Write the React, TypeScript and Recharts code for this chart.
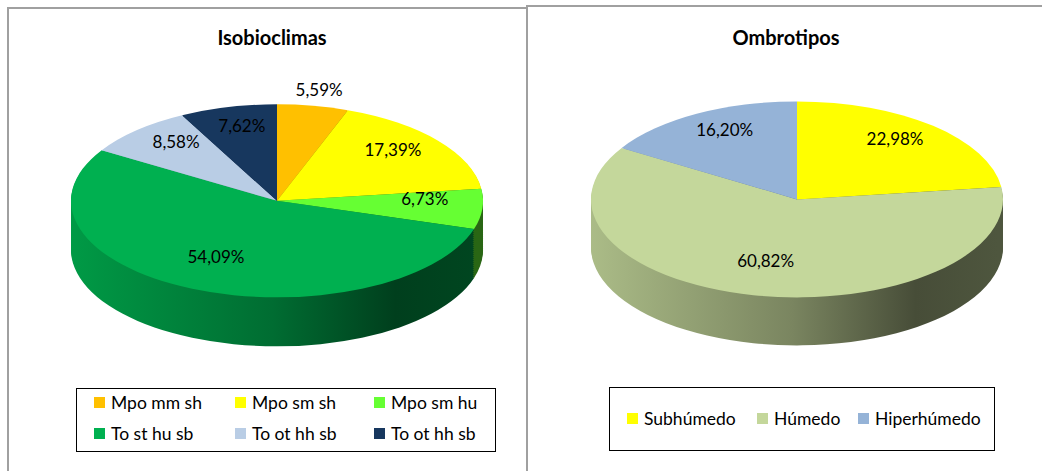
import React from 'react';
import { PieChart, Pie, Cell } from 'recharts';

// Isobioclimas
const isoNames = ['Mpo mm sh', 'Mpo sm sh', 'Mpo sm hu', 'To st hu sb', 'To ot hh sb', 'To ot hh sb'];
const isoValues = [5.59, 17.39, 6.73, 54.09, 8.58, 7.62];
const isoColors = ['#FFC000', '#FFFF00', '#66FF33', '#00B050', '#B9CDE5', '#17375E'];

// Ombrotipos
const omNames = ['Subhúmedo', 'Húmedo', 'Hiperhúmedo'];
const omValues = [22.98, 60.82, 16.2];
const omColors = ['#FFFF00', '#C4D79B', '#95B3D7'];

const FONT = 'Lato, "Open Sans", sans-serif';
const STEP = 2;

const shade = (hex: string, f: number) => {
  const n = parseInt(hex.slice(1), 16);
  const r = Math.round(((n >> 16) & 255) * f);
  const g = Math.round(((n >> 8) & 255) * f);
  const b = Math.round((n & 255) * f);
  return `rgb(${r},${g},${b})`;
};

const fmt = (v: number) => v.toFixed(2).replace('.', ',') + '%';

interface Pie3DProps {
  id: string;
  names: string[];
  values: number[];
  colors: string[];
  width: number;
  height: number;
  cx: number;
  cy: number;
  rx: number;
  ry: number;
  depth: number;
}

const Pie3D: React.FC<Pie3DProps> = ({ id, names, values, colors, width, height, cx, cy, rx, ry, depth }) => {
  const s = ry / rx;
  const data = names.map((name, i) => ({ name, value: values[i] }));
  const layers: number[] = [];
  for (let k = depth; k > 0; k -= STEP) layers.push(k);

  // small slices get their label outside, the rest inside (nudged up a bit for the tilt)
  const renderLabel = (p: any) => {
    const outside = p.percent < 0.06;
    const f = outside ? 1.17 : 0.72;
    const a = (-p.midAngle * Math.PI) / 180;
    const x = p.cx + p.outerRadius * f * Math.cos(a);
    const y = (p.cy + p.outerRadius * f * Math.sin(a)) * s - (outside ? 0 : 8);
    return (
      <text x={x} y={y} textAnchor="middle" dominantBaseline="central" fill="#000" fontSize={17} fontFamily={FONT}>
        {fmt(p.value)}
      </text>
    );
  };

  return (
    <div className={id}>
      <style>{`.${id} path.recharts-sector { transform: scaleY(${s}); transform-origin: 0 0; }`}</style>
      <PieChart width={width} height={height}>
        <defs>
          {colors.map((c, i) => (
            <linearGradient key={i} id={`${id}-side-${i}`} gradientUnits="userSpaceOnUse" x1={cx - rx} x2={cx + rx} y1={0} y2={0}>
              <stop offset="0" stopColor={shade(c, 0.88)} />
              <stop offset="0.5" stopColor={shade(c, 0.62)} />
              <stop offset="0.8" stopColor={shade(c, 0.36)} />
              <stop offset="1" stopColor={shade(c, 0.4)} />
            </linearGradient>
          ))}
        </defs>
        {layers.map((k) => (
          <Pie
            key={k}
            data={data}
            dataKey="value"
            nameKey="name"
            cx={cx}
            cy={(cy + k) / s}
            innerRadius={0}
            outerRadius={rx}
            startAngle={90}
            endAngle={-270}
            stroke="none"
            label={false}
            labelLine={false}
            isAnimationActive={false}
          >
            {data.map((d, i) => (
              <Cell key={i} fill={`url(#${id}-side-${i})`} stroke="none" />
            ))}
          </Pie>
        ))}
        <Pie
          data={data}
          dataKey="value"
          nameKey="name"
          cx={cx}
          cy={cy / s}
          innerRadius={0}
          outerRadius={rx}
          startAngle={90}
          endAngle={-270}
          stroke="none"
          label={renderLabel}
          labelLine={false}
          isAnimationActive={false}
        >
          {data.map((d, i) => (
            <Cell key={i} fill={colors[i]} stroke="none" />
          ))}
        </Pie>
      </PieChart>
    </div>
  );
};

const LegendBox: React.FC<{
  names: string[];
  colors: string[];
  left: number;
  top: number;
  width: number;
  height: number;
  columns: string;
  paddingTop: number;
}> = ({ names, colors, left, top, width, height, columns, paddingTop }) => (
  <div
    style={{
      position: 'absolute',
      left,
      top,
      width,
      height,
      boxSizing: 'border-box',
      border: '1.5px solid #000',
      background: '#fff',
      display: 'grid',
      gridTemplateColumns: columns,
      alignContent: 'start',
      rowGap: 9,
      paddingLeft: 17,
      paddingTop,
      fontFamily: FONT,
      fontSize: 17.5,
      color: '#000',
    }}
  >
    {names.map((n, i) => (
      <div key={i} style={{ display: 'flex', alignItems: 'center', height: 22, whiteSpace: 'nowrap' }}>
        <span style={{ display: 'inline-block', width: 11, height: 11, background: colors[i], marginRight: 6 }} />
        <span>{n}</span>
      </div>
    ))}
  </div>
);

const titleStyle: React.CSSProperties = {
  position: 'absolute',
  width: 240,
  top: 26,
  lineHeight: '22px',
  textAlign: 'center',
  fontFamily: FONT,
  fontWeight: 700,
  fontSize: 20,
  color: '#000',
};

export default function App() {
  return (
    <div style={{ position: 'relative', width: 1042, height: 471, overflow: 'hidden', background: '#fff' }}>
      <style>{`body { margin: 0; }`}</style>
      {/* panel frames */}
      <div
        style={{
          position: 'absolute',
          left: 7,
          top: 7,
          width: 521,
          height: 500,
          boxSizing: 'border-box',
          borderLeft: '2px solid #a0a0a0',
          borderTop: '2px solid #a0a0a0',
          borderRight: '2px solid #a0a0a0',
        }}
      />
      <div
        style={{
          position: 'absolute',
          left: 526,
          top: 5,
          width: 530,
          height: 500,
          boxSizing: 'border-box',
          borderTop: '2px solid #a0a0a0',
          borderLeft: '2px solid #a0a0a0',
        }}
      />

      <div style={{ position: 'absolute', left: 0, top: 0 }}>
        <Pie3D id="iso" names={isoNames} values={isoValues} colors={isoColors} width={526} height={471} cx={272} cy={198.5} rx={206} ry={96.5} depth={49} />
      </div>
      <div style={{ position: 'absolute', left: 526, top: 0 }}>
        <Pie3D id="omb" names={omNames} values={omValues} colors={omColors} width={516} height={471} cx={266} cy={197} rx={206} ry={98} depth={48} />
      </div>

      <div style={{ ...titleStyle, left: 152 }}>Isobioclimas</div>
      <div style={{ ...titleStyle, left: 666 }}>Ombrotipos</div>

      <LegendBox names={isoNames} colors={isoColors} left={76} top={388} width={420} height={64} columns="141px 139px auto" paddingTop={2.5} />
      <LegendBox names={omNames} colors={omColors} left={609} top={387} width={386} height={64} columns="130px 101px auto" paddingTop={19.5} />
    </div>
  );
}
